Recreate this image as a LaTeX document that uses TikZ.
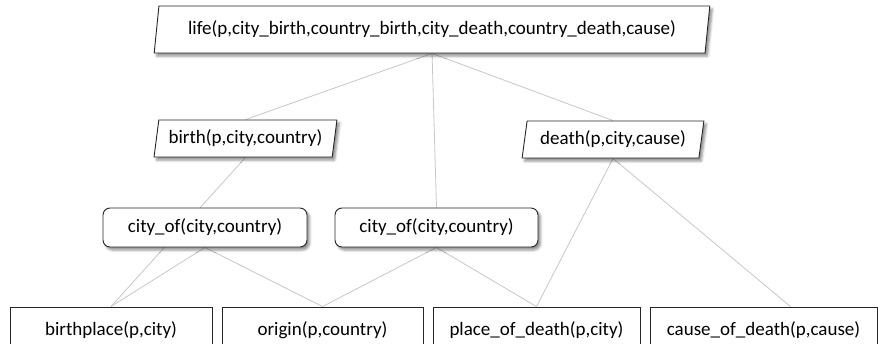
\documentclass[tikz,border=0pt]{standalone}
\usepackage{fontspec}
\setmainfont{Carlito}
\usetikzlibrary{shapes.geometric,shadows.blur}
\pgfdeclarelayer{background}
\pgfsetlayers{background,main}
\begin{document}
\begin{tikzpicture}[x=1pt,y=-1pt,
  font=\fontsize{19}{22}\selectfont,
  boxshadow/.style={blur shadow={shadow xshift=2.5pt,shadow yshift=-3pt,shadow blur radius=2.5pt,shadow opacity=45}},
  slanted/.style={trapezium,trapezium left angle=76,trapezium right angle=104,
    trapezium stretches=true,draw=black!85,line width=0.9pt,fill=white,inner sep=0pt,boxshadow},
  roundbox/.style={rectangle,rounded corners=7pt,draw=black!85,line width=0.9pt,fill=white,
    inner sep=0pt,minimum height=39pt,boxshadow},
  plainbox/.style={rectangle,draw=black!85,line width=0.9pt,fill=white,inner sep=0pt,
    minimum height=46pt},
  link/.style={draw=black!22,line width=0.8pt}]
\useasboundingbox (0,0) rectangle (878,343);
\clip (0,0) rectangle (878,343);

% top-level relation
\node[slanted,minimum width=560pt,minimum height=47pt] (life) at (432,29.5)
  {life(p,city\_birth,country\_birth,city\_death,country\_death,cause)};

% second level
\node[slanted,minimum width=183pt,minimum height=37pt] (birth) at (245.5,138.5)
  {birth(p,city,country)};
\node[slanted,minimum width=182pt,minimum height=37pt] (death) at (613,139.5)
  {death(p,city,cause)};

% shared lookup relations
\node[roundbox,minimum width=204pt] (cityL) at (205,227.5) {city\_of(city,country)};
\node[roundbox,minimum width=203pt] (cityR) at (436.5,227.5) {city\_of(city,country)};

% base relations
\node[plainbox,minimum width=202pt] (bplace) at (111,330) {birthplace(p,city)};
\node[plainbox,minimum width=201pt] (origin) at (322.5,330) {origin(p,country)};
\node[plainbox,minimum width=207pt] (pod) at (536.5,330) {place\_of\_death(p,city)};
\node[plainbox,minimum width=227pt] (cod) at (763.5,330) {cause\_of\_death(p,cause)};

\begin{pgfonlayer}{background}
  \draw[link] (life.south) -- (birth.north);
  \draw[link] (life.south) -- (cityR.north);
  \draw[link] (life.south) -- (death.north);
  \draw[link] (birth.south) -- (bplace.north);
  \draw[link] (cityL.south) -- (bplace.north);
  \draw[link] (cityL.south) -- (origin.north);
  \draw[link] (cityR.south) -- (origin.north);
  \draw[link] (cityR.south) -- (pod.north);
  \draw[link] (death.south) -- (pod.north);
  \draw[link] (death.south) -- ([xshift=27pt]cod.north);
\end{pgfonlayer}
\end{tikzpicture}
\end{document}
